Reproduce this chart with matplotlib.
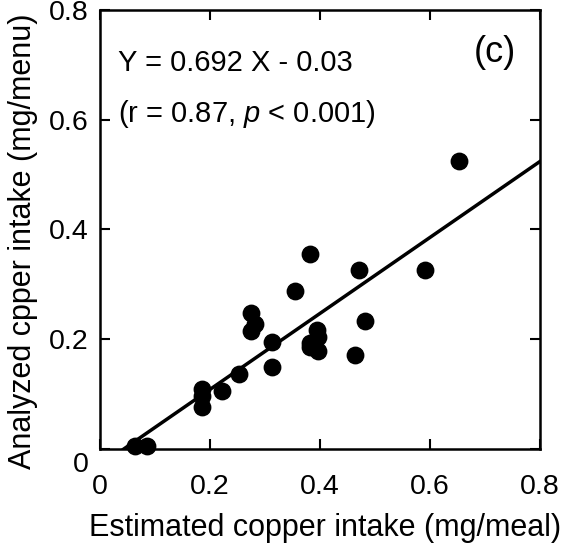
import matplotlib
matplotlib.use("Agg")
import matplotlib.pyplot as plt
import matplotlib.transforms as mtransforms
import numpy as np

plt.rcParams['font.family'] = ['Liberation Sans', 'DejaVu Sans']
plt.rcParams['mathtext.fontset'] = 'custom'
plt.rcParams['mathtext.rm'] = 'Liberation Sans'
plt.rcParams['mathtext.it'] = 'Liberation Sans:italic'

estimated = [0.653, 0.382, 0.471, 0.592, 0.355, 0.275, 0.282, 0.275, 0.483, 0.314,
             0.395, 0.397, 0.382, 0.382, 0.397, 0.464, 0.314, 0.253, 0.222, 0.185,
             0.185, 0.185, 0.064, 0.085]
analyzed = [0.524, 0.355, 0.326, 0.326, 0.287, 0.247, 0.228, 0.215, 0.234, 0.195,
            0.216, 0.205, 0.193, 0.186, 0.178, 0.171, 0.150, 0.137, 0.106, 0.110,
            0.097, 0.077, 0.005, 0.005]
slope = 0.692
intercept = -0.03
ticks = [0, 0.2, 0.4, 0.6, 0.8]
tick_labels = ["0", "0.2", "0.4", "0.6", "0.8"]

fig = plt.figure(figsize=(5.67, 5.45), dpi=100)
ax = fig.add_axes([0.176, 0.176, 0.776, 0.806])

ax.scatter(estimated, analyzed, s=140, color='black', zorder=3, clip_on=False)
x0 = -intercept / slope
xl = np.array([x0, 0.8])
ax.plot(xl, slope * xl + intercept, color='black', lw=2.5, zorder=2)

ax.set_xlim(0, 0.8)
ax.set_ylim(0, 0.8)
ax.set_xticks(ticks)
ax.set_xticklabels(tick_labels)
ax.set_yticks(ticks)
ax.set_yticklabels(tick_labels)
ax.tick_params(direction='in', length=7, width=1.5, top=True, right=True,
               labelsize=20.5)
ax.tick_params(axis='x', pad=18)
ax.tick_params(axis='y', pad=8)
for s in ax.spines.values():
    s.set_linewidth(1.8)

# shift the y "0" tick label downward as in the reference
t0 = ax.yaxis.get_major_ticks()[0].label1
t0.set_transform(t0.get_transform() +
                 mtransforms.ScaledTranslation(0, -13 / 100, fig.dpi_scale_trans))

xlab = ax.set_xlabel("Estimated copper intake (mg/meal)", fontsize=22)
xlab.set_va('baseline')
ax.xaxis.set_label_coords(0.511, -0.198)
ylab = ax.set_ylabel("Analyzed cpper intake (mg/menu)", fontsize=22)
ylab.set_va('center')
ylab.set_ha('center')
ax.yaxis.set_label_coords(-0.175, 0.472)

ax.text(0.033, 0.688, "Y = 0.692 X - 0.03", fontsize=21, va='baseline', ha='left')
ax.text(0.033, 0.596, r"(r = 0.87, $\it{p}$ < 0.001)", fontsize=21, va='baseline', ha='left')
ax.text(0.718, 0.705, "(c)", fontsize=26, va='baseline', ha='center')

fig.savefig("out.png", dpi=100)
